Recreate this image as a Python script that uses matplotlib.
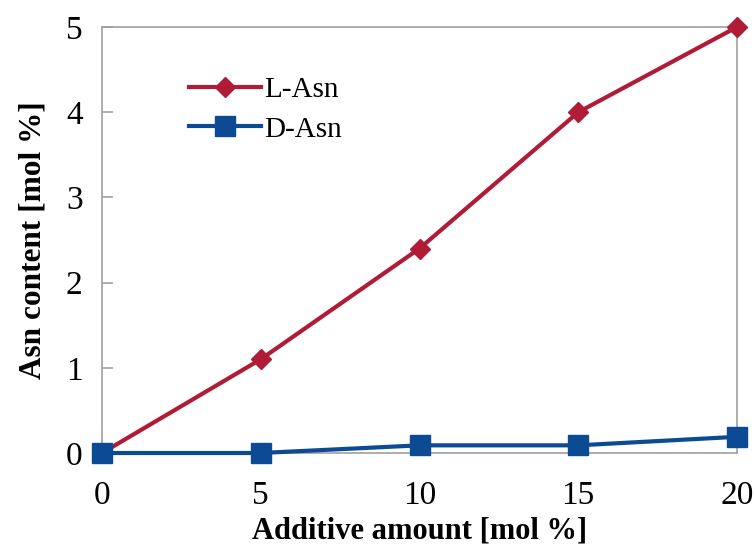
import matplotlib
matplotlib.use("Agg")
import matplotlib.pyplot as plt

x = [0, 5, 10, 15, 20]
l_asn = [0.0, 1.1, 2.4, 4.0, 5.0]
d_asn = [0.0, 0.0, 0.09, 0.09, 0.19]
xticks = [0, 5, 10, 15, 20]
yticks = [0, 1, 2, 3, 4, 5]

plt.rcParams['font.family'] = ['Liberation Serif', 'DejaVu Serif']

fig = plt.figure(figsize=(7.55, 5.48), dpi=100)
ax = fig.add_axes([102/755, 1-453/548, (737-102)/755, (453-27)/548])

red = '#B01C36'
blue = '#0D4A94'
ax.plot(x, l_asn, color=red, lw=3, marker='D', ms=10, label='L-Asn', clip_on=False, zorder=3)
ax.plot(x, d_asn, color=blue, lw=3, marker='s', ms=15, label='D-Asn', clip_on=False, zorder=4)

ax.set_xlim(0, 20)
ax.set_ylim(0, 5)
ax.set_xticks(xticks)
ax.set_yticks(yticks)
for s in ax.spines.values():
    s.set_color('#A0A0A0')
    s.set_linewidth(1.2)
ax.tick_params(axis='both', direction='in', color='#A0A0A0', length=8, width=1.2,
               labelsize=24, pad=14)
ax.tick_params(axis='x', length=0, pad=20)
ax.set_xlabel('Additive amount [mol %]', fontsize=22, fontweight='bold', labelpad=4)
ax.set_ylabel('Asn content [mol %]', fontsize=22.5, fontweight='bold', labelpad=13)

leg = ax.legend(loc='upper left', bbox_to_anchor=(0.095, 0.945), frameon=False, fontsize=21,
                handlelength=2.5, handletextpad=0.1, labelspacing=0.45)

fig.savefig('out.png', dpi=100)
